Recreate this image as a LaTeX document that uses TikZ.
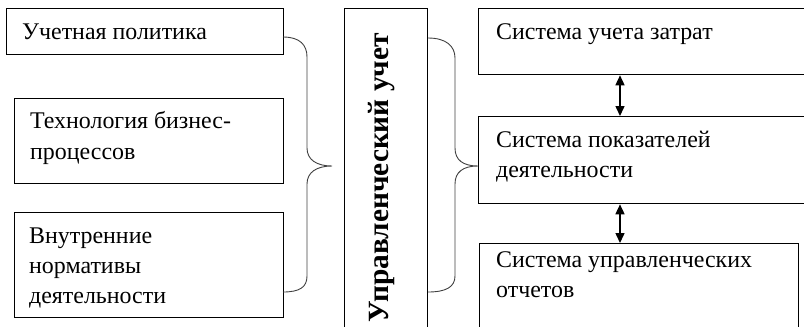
\documentclass[tikz,border=0pt]{standalone}
\usepackage{fontspec}
\setmainfont{Liberation Serif}
\usetikzlibrary{arrows.meta}
\begin{document}
\begin{tikzpicture}[x=1bp,y=-1bp,
  box/.style={draw,line width=1.3bp,inner sep=0pt,anchor=north west},
  txt/.style={anchor=base west,inner sep=0pt,font=\fontsize{24}{31}\selectfont},
  brace/.style={line width=0.9bp,black!75},
  dbl/.style={line width=1.5bp,{Triangle[length=10bp,width=9bp]}-{Triangle[length=10bp,width=9bp]}}]
\useasboundingbox (0,0) rectangle (804,326);
\clip (0,0) rectangle (804,326);
% left boxes
\node[box,minimum width=277bp,minimum height=46bp] (b1) at (6,8) {};
\node[box,minimum width=269bp,minimum height=85bp] (b2) at (14,98) {};
\node[box,minimum width=269bp,minimum height=105bp] (b3) at (14,212) {};
\node[txt] (t1) at (22,39) {Учетная политика};
\node[txt] (t2a) at (30,128) {Технология бизнес-};
\node[txt] (t2b) at (30,159) {процессов};
\node[txt] (t3a) at (29,243) {Внутренние};
\node[txt] (t3b) at (29,273) {нормативы};
\node[txt] (t3c) at (29,303) {деятельности};
% center box
\node[box,minimum width=83bp,minimum height=340bp] (mid) at (344,8) {};
\node[rotate=90,anchor=base,inner sep=0pt,font=\bfseries\fontsize{29.5}{32}\selectfont] (title) at (388,177.5) {Управленческий учет};
% right boxes
\node[box,minimum width=340bp,minimum height=66bp] (bA) at (478,8) {};
\node[box,minimum width=340bp,minimum height=87bp] (bB) at (478,116) {};
\node[box,minimum width=319bp,minimum height=100bp] (bC) at (479,243) {};
\node[txt] (tA) at (496,39) {Система учета затрат};
\node[txt] (tBa) at (496,147) {Система показателей};
\node[txt] (tBb) at (496,177) {деятельности};
\node[txt] (tCa) at (496,267) {Система управленческих};
\node[txt] (tCb) at (496,297) {отчетов};
% arrows
\coordinate (ax) at (620,0);
\draw[dbl] (bA.south -| ax) -- (bB.north -| ax);
\draw[dbl] (bB.south -| ax) -- (bC.north -| ax);
% left brace
\coordinate (lb1) at (283,37);
\coordinate (lb2) at (283,292);
\coordinate (ltip) at (332,166);
\draw[brace] (lb1) .. controls (300,37) and (307,45) .. (307,57) -- (307,148)
  .. controls (307,160) and (317,166) .. (ltip)
  .. controls (317,166) and (307,172) .. (307,184) -- (307,276)
  .. controls (307,287) and (300,292) .. (lb2);
% right brace
\coordinate (rb1) at (428,38);
\coordinate (rb2) at (428,292);
\coordinate (rtip) at (478,166);
\draw[brace] (rb1) .. controls (446,38) and (455,46) .. (455,58) -- (455,148)
  .. controls (455,160) and (463,166) .. (rtip)
  .. controls (463,166) and (455,172) .. (455,184) -- (455,276)
  .. controls (455,287) and (446,292) .. (rb2);
\end{tikzpicture}
\end{document}
